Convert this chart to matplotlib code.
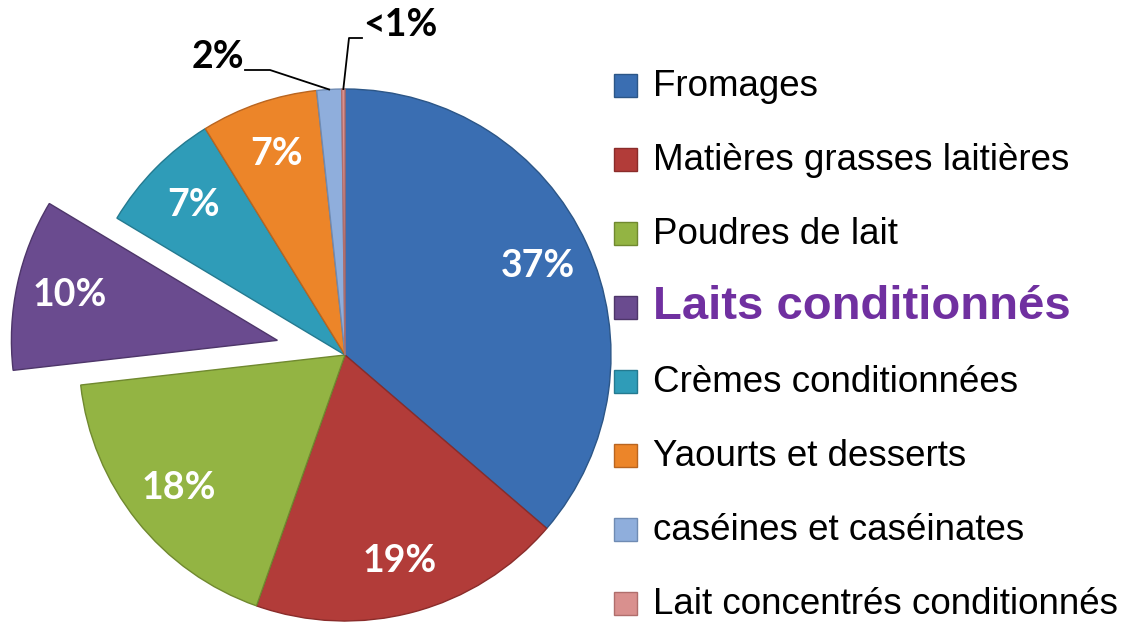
import numpy as np
import matplotlib.pyplot as plt
from matplotlib.patches import Rectangle

categories = ["Fromages", "Matières grasses laitières", "Poudres de lait",
              "Laits conditionnés", "Crèmes conditionnées", "Yaourts et desserts",
              "caséines et caséinates", "Lait concentrés conditionnés"]
shares = [36.3, 19.1, 17.8, 10.4, 7.6, 7.1, 1.5, 0.2]
pct_labels = ["37%", "19%", "18%", "10%", "7%", "7%", "2%", "<1%"]
colors = ["#3A6EB2", "#B23C39", "#93B443", "#6A4B8F", "#2F9CB8", "#EC8529",
          "#8FAEDC", "#D9908E"]
edges = ["#2C5687", "#8A2C2A", "#70892F", "#4E366A", "#247A90", "#B96520",
         "#6F8BB3", "#B06E6C"]
explode = [0, 0, 0, 0.26, 0, 0, 0, 0]

W, H = 1130, 626
fig = plt.figure(figsize=(W / 100, H / 100), dpi=100)
ax = fig.add_axes([0, 0, 1, 1])

cx, cy, R = 345, H - 355, 266
# pie's explode offset is in data units, not in radius units
wedges, _ = ax.pie(shares, colors=colors, startangle=90, counterclock=False,
                   explode=[e * R for e in explode], center=(cx, cy), radius=R,
                   wedgeprops=dict(linewidth=1.0))
for w, ec in zip(wedges, edges):
    w.set_edgecolor(ec)

ax.set_xlim(0, W)
ax.set_ylim(0, H)
ax.set_aspect("equal")
ax.axis("off")

lab_font = dict(family="Lato", weight="bold", fontsize=27)

# percent labels inside the big slices
for i, w in enumerate(wedges[:6]):
    mid = np.deg2rad((w.theta1 + w.theta2) / 2)
    wx, wy = w.center
    ax.text(wx + 0.8 * R * np.cos(mid), wy + 0.8 * R * np.sin(mid), pct_labels[i],
            color="white", ha="center", va="center", **lab_font)

# small slices: outside labels with leader lines
w = wedges[6]
mid = np.deg2rad((w.theta1 + w.theta2) / 2)
px, py = cx + R * np.cos(mid), cy + R * np.sin(mid)
ax.plot([px, 270, 245], [py, H - 70, H - 70], color="black", lw=1.3)
ax.text(218, H - 57, pct_labels[6], color="black", ha="center", va="center", **lab_font)

w = wedges[7]
mid = np.deg2rad((w.theta1 + w.theta2) / 2)
px, py = cx + R * np.cos(mid), cy + R * np.sin(mid)
ax.plot([px, 349, 362], [py, H - 38, H - 38], color="black", lw=1.3)
ax.text(400, H - 25, pct_labels[7], color="black", ha="center", va="center", **lab_font)

# legend
y0, dy = 85, 74
for i, name in enumerate(categories):
    yc = H - (y0 + i * dy)
    ax.add_patch(Rectangle((614, yc - 12), 23, 23, facecolor=colors[i],
                           edgecolor=edges[i], lw=1.0))
    if i == 3:
        ax.text(653, yc, name, color="#7030A0", fontsize=34, fontweight="bold",
                family="Liberation Sans", ha="left", va="center")
    else:
        ax.text(653, yc - 1, name, color="black", fontsize=26.5,
                family="Liberation Sans", ha="left", va="center")

fig.savefig("out.png", dpi=100)
